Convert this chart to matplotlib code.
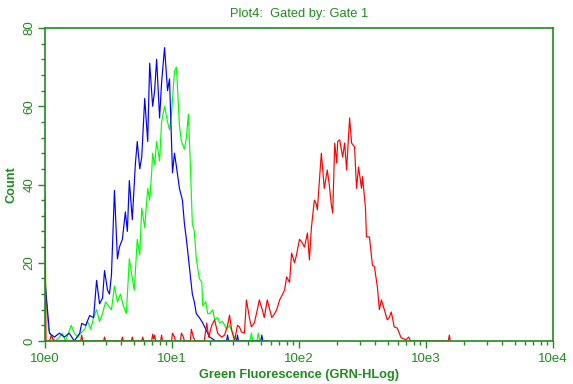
import numpy as np
import matplotlib.pyplot as plt
from matplotlib.ticker import MultipleLocator, LogLocator, FuncFormatter, NullFormatter

plt.rcParams['font.family'] = ['Liberation Sans', 'DejaVu Sans']

# histogram channels (1024 channels over 4 decades) and counts
blue_ch = [0, 5, 9, 19, 29, 39, 49, 59, 70, 74,
           82, 90, 98, 104, 110, 116, 120, 126, 130, 134,
           140, 146, 150, 156, 162, 166, 170, 176, 182, 186,
           191, 195, 201, 207, 211, 217, 221, 225, 231, 235,
           241, 247, 251, 257, 261, 265, 271, 277, 281, 285,
           291, 297, 301, 305, 311, 318, 324, 332, 338, 344,
           366, 368, 370, 386, 388, 390, 435, 437, 439, 450]
blue_cnt = [15, 8, 2, 1, 2, 1, 2, 0, 2, 4.5,
            4, 6.5, 6, 15.5, 9.5, 11, 18, 13, 12, 17,
            38.5, 21, 24, 26, 33, 28, 41, 31, 45, 51,
            44, 47, 62, 51, 71, 60, 64, 72, 57, 66,
            75, 64, 67, 43, 48, 44.5, 39, 36, 30, 26,
            19, 12, 10, 7, 6, 4.6, 3, 1, 0.5, 0,
            0, 1.5, 0, 0, 1.5, 0, 0, 1.5, 0, 0]

green_ch = [0, 3, 7, 13, 21, 29, 35, 41, 47, 53,
            59, 66, 72, 80, 86, 92, 98, 104, 110, 116,
            122, 128, 134, 140, 146, 152, 158, 164, 170, 176,
            180, 186, 191, 195, 201, 207, 211, 215, 217, 221,
            225, 231, 235, 241, 247, 251, 255, 261, 265, 271,
            275, 281, 285, 289, 293, 297, 301, 305, 311, 316,
            318, 324, 328, 332, 338, 342, 348, 352, 358, 366,
            372, 378, 382, 388, 413, 416, 419, 427, 430, 433]
green_cnt = [17, 10, 3, 1, 0, 1, 2, 0, 2, 4,
             2, 1, 2, 3, 5, 3, 6, 8, 5, 7,
             10, 9, 8, 14, 10, 12, 9, 7, 21, 16,
             13, 26, 22, 34, 29, 39, 36, 43, 48, 45,
             51, 46, 56, 60, 56, 54, 58, 69, 70, 55,
             51, 49, 52, 58, 45, 30, 28, 21, 16, 15,
             9, 10, 7, 7, 8, 5.4, 6, 4.6, 5, 3,
             4, 2, 1, 0, 0, 2, 0, 0, 2, 0]

red_ch = [0, 2, 9, 13, 17, 72, 74, 76, 118, 120,
          122, 154, 156, 158, 174, 176, 178, 195, 197, 199,
          215, 217, 219, 221, 223, 233, 235, 237, 255, 257,
          261, 263, 273, 275, 279, 281, 293, 295, 299, 303,
          321, 326, 330, 336, 342, 348, 356, 362, 368, 372,
          376, 382, 388, 392, 396, 402, 406, 412, 416, 422,
          428, 432, 438, 442, 448, 453, 457, 463, 467, 473,
          479, 483, 487, 493, 497, 503, 507, 513, 519, 523,
          529, 533, 537, 543, 547, 549, 557, 563, 569, 573,
          577, 580, 584, 588, 590, 594, 600, 604, 608, 614,
          618, 624, 628, 632, 638, 640, 646, 648, 654, 660,
          664, 670, 674, 678, 684, 690, 694, 698, 704, 710,
          718, 724, 728, 733, 737, 813, 815, 817]
red_cnt = [38, 0, 0, 1.5, 0, 0, 1.5, 0, 0, 1,
           0, 0, 1, 0, 0, 1, 0, 0, 1, 0,
           0, 1.7, 0.5, 1.5, 0, 0, 1.5, 0, 0, 2,
           1, 0, 0, 2, 1, 0, 0, 3, 1, 0,
           0, 4.6, 1, 4, 5.4, 2, 1, 1.5, 4, 6.6,
           3, 0, 4, 3.6, 2.3, 2, 10.5, 6, 3.6, 4.6,
           8, 10.5, 8, 6, 10.5, 8, 6, 7, 8, 10.5,
           12, 13, 16.4, 15, 22.5, 20, 22, 26, 25, 24,
           27.6, 20.7, 29, 36, 35, 33.5, 48, 39, 43.7, 40,
           35, 32.7, 50.6, 45.5, 51, 51.4, 47, 50.6, 43.7, 57,
           50.6, 49.6, 39, 44.5, 39, 42, 34, 26.6, 26.6, 19.4,
           19, 13.8, 8, 10.5, 8, 5.4, 6, 7.4, 3.6, 3.3,
           0.8, 0.5, 0.3, 1, 0, 0, 1.5, 0]

CH_PER_DECADE = 256
GREEN = '#1e8c1e'


def ch_to_value(ch):
    return 10 ** (np.asarray(ch) / CH_PER_DECADE)


fig = plt.figure(figsize=(5.73, 3.84), dpi=100)
ax = fig.add_axes([45 / 573, 43 / 384, 508 / 573, 313 / 384])

ax.plot(ch_to_value(green_ch), green_cnt, color='#00ff00', lw=0.85)
ax.plot(ch_to_value(blue_ch), blue_cnt, color='#0000ff', lw=0.85)
ax.plot(ch_to_value(red_ch), red_cnt, color='#ff0000', lw=0.85)

ax.set_xscale('log')
ax.set_xlim(1, 1e4)
ax.set_ylim(0, 80)

ax.xaxis.set_major_locator(LogLocator(base=10))
ax.xaxis.set_minor_locator(LogLocator(base=10, subs=range(2, 10)))
ax.xaxis.set_major_formatter(FuncFormatter(lambda v, p: f"10e{int(round(np.log10(v)))}"))
ax.xaxis.set_minor_formatter(NullFormatter())
ax.yaxis.set_major_locator(MultipleLocator(20))
ax.yaxis.set_minor_locator(MultipleLocator(4))

for s in ax.spines.values():
    s.set_color(GREEN)
    s.set_linewidth(1.2)

ax.tick_params(which='major', direction='out', length=5, width=1, color=GREEN,
               labelcolor=GREEN, labelsize=9.5)
ax.tick_params(which='minor', direction='out', length=3, width=1, color=GREEN)
ax.tick_params(axis='y', labelrotation=90, pad=2)
for lbl in ax.get_yticklabels():
    lbl.set_va('center')

ax.set_xlabel("Green Fluorescence (GRN-HLog)", color=GREEN, fontweight='bold',
              fontsize=9.2, labelpad=3)
ax.set_ylabel("Count", color=GREEN, fontweight='bold', fontsize=9.2, labelpad=4)
ax.set_title("Plot4:  Gated by: Gate 1", color=GREEN, fontsize=9.3, pad=8)

fig.savefig("out.png", dpi=100)
